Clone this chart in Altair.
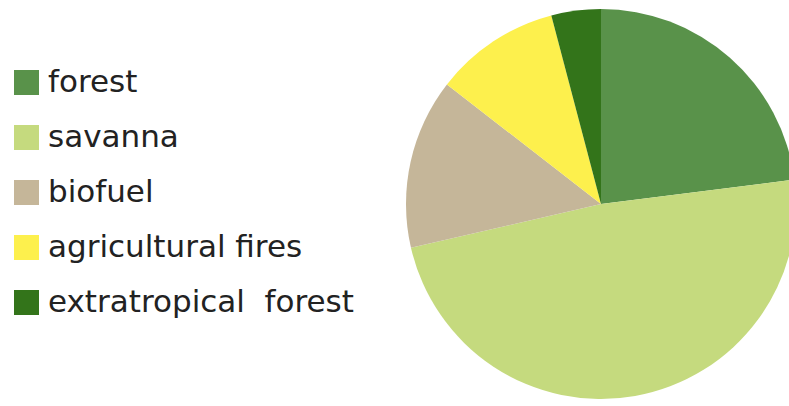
import altair as alt
import pandas as pd

categories = ["forest", "savanna", "biofuel", "agricultural fires", "extratropical\u00a0\u00a0forest"]
values = [23, 48.4, 14.1, 10.4, 4.1]
colors = ["#59924A", "#C5DA7E", "#C5B699", "#FDF04D", "#33741A"]

df = pd.DataFrame({"category": categories, "value": values, "order": list(range(len(categories)))})

chart = alt.Chart(df).mark_arc(radius=195, stroke=None).encode(
    theta=alt.Theta("value:Q", stack=True),
    order=alt.Order("order:Q"),
    color=alt.Color(
        "category:N",
        scale=alt.Scale(domain=categories, range=colors),
        sort=categories,
        legend=alt.Legend(
            title=None,
            orient="none",
            legendX=11,
            legendY=67,
            symbolType="square",
            symbolSize=625,
            symbolStrokeWidth=0,
            labelFontSize=31,
            labelFont="DejaVu Sans",
            labelColor="#222222",
            labelOffset=6,
            rowPadding=23,
            labelLimit=500,
        ),
    ),
    x=alt.value(601),
    y=alt.value(204),
).properties(
    width=789,
    height=406,
    autosize=alt.AutoSizeParams(type="none"),
    padding=0,
).configure_view(stroke=None)

chart.save("out.html", embed_options={"renderer": "svg", "actions": False})
